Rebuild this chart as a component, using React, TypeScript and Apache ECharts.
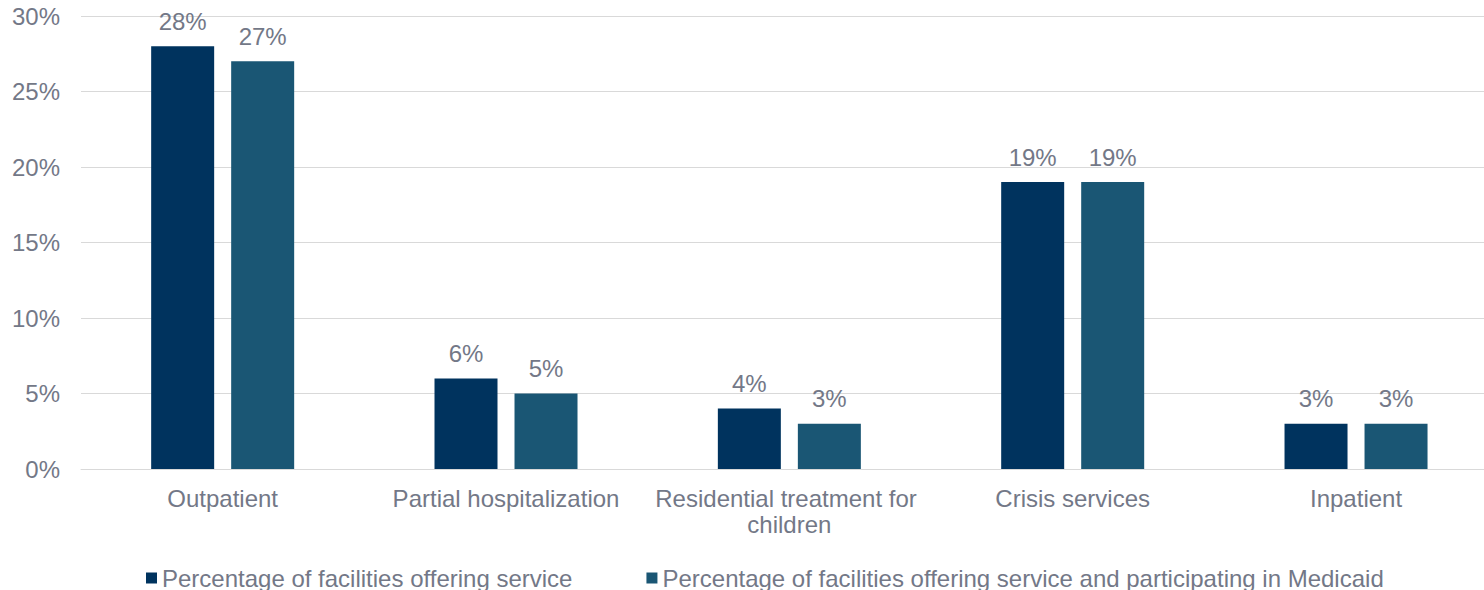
import React, { useEffect, useRef } from "react";
import * as echarts from "echarts";

const categories = [
  "Outpatient",
  "Partial hospitalization",
  "Residential treatment for children",
  "Crisis services",
  "Inpatient",
];
const offeringService = [28, 6, 4, 19, 3];
const offeringAndMedicaid = [27, 5, 3, 19, 3];
const seriesNames = [
  "Percentage of facilities offering service",
  "Percentage of facilities offering service and participating in Medicaid",
];

const TEXT = "#737887";
const FONT = "Liberation Sans, Arial, sans-serif";
const FS = 24;

export default function App() {
  const ref = useRef<HTMLDivElement>(null);
  useEffect(() => {
    if (!ref.current) return;
    const chart = echarts.init(ref.current, null, { renderer: "svg" });
    const label = {
      show: true,
      position: "top",
      distance: 13,
      formatter: "{c}%",
      color: TEXT,
      fontSize: FS,
      fontFamily: FONT,
    };
    chart.setOption({
      animation: false,
      textStyle: { fontFamily: FONT },
      grid: { left: 81, right: 1, top: 16, bottom: 121, containLabel: false },
      legend: {
        top: 561,
        left: 141,
        itemWidth: 11,
        itemHeight: 11,
        itemGap: 74,
        icon: "rect",
        textStyle: { color: TEXT, fontSize: FS, fontFamily: FONT, padding: [0, 0, 0, 0] },
        data: seriesNames,
      },
      xAxis: {
        type: "category",
        data: categories,
        axisLine: { show: true, lineStyle: { color: "#d9d9d9", width: 1 } },
        axisTick: { show: false },
        axisLabel: {
          color: TEXT,
          fontSize: FS,
          fontFamily: FONT,
          margin: 16,
          lineHeight: 26,
          width: 280,
          overflow: "break",
          interval: 0,
        },
      },
      yAxis: {
        type: "value",
        min: 0,
        max: 30,
        interval: 5,
        axisLine: { show: false },
        axisTick: { show: false },
        splitLine: { lineStyle: { color: "#d9d9d9", width: 1 } },
        axisLabel: {
          formatter: "{value}%",
          color: TEXT,
          fontSize: FS,
          fontFamily: FONT,
          margin: 21,
        },
      },
      series: [
        {
          name: seriesNames[0],
          type: "bar",
          data: offeringService,
          itemStyle: { color: "#00335E" },
          barWidth: 63,
          barGap: "27%",
          label,
        },
        {
          name: seriesNames[1],
          type: "bar",
          data: offeringAndMedicaid,
          itemStyle: { color: "#1A5674" },
          barWidth: 63,
          barGap: "27%",
          label,
        },
      ],
    });
    return () => chart.dispose();
  }, []);
  return (
    <div
      ref={ref}
      style={{ position: "fixed", left: 0, top: 0, width: 1499, height: 590, background: "#fff" }}
    />
  );
}
